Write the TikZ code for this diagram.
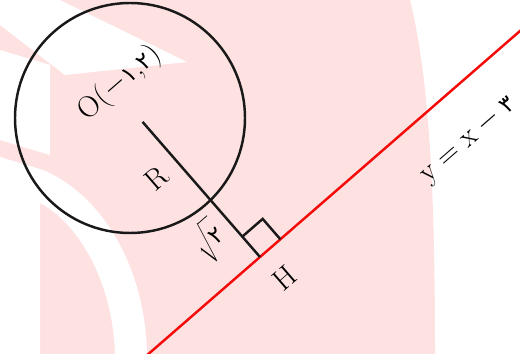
\documentclass[tikz,border=0pt]{standalone}
\usepackage{fontspec}
\newfontfamily\fadigits[Scale=0.78]{DejaVu Sans}
\usetikzlibrary{calc}
\definecolor{LineRed}{RGB}{245,10,10}
\definecolor{WmPink}{RGB}{254,226,226}
\newcommand{\fa}[1]{{\fadigits #1}}

\begin{document}
\begin{tikzpicture}[x=0.02cm, y=0.02cm, font=\fontsize{17}{20}\selectfont, lbl/.style={inner sep=1pt, rotate=41}, seg/.style={line width=1.4pt, black!90}, tang/.style={line width=1.4pt, LineRed}]
\useasboundingbox (0,0) rectangle (520,354);
\clip (0,0) rectangle (520,354);
\fill[WmPink] (0,0) -- (435,0) .. controls (435,180) and (428,280) .. (410,354) -- (0,354) -- cycle;
\fill[white] (0,354) -- (60,354) -- (187,292) -- (65,279) -- (0,329) -- cycle;
\fill[white] (0,304) -- (50,289) -- (50,199) -- (0,214) -- cycle;
\fill[white] (0,197) -- (43,184) .. controls (100,160) and (145,90) .. (147,0) -- (115,0) .. controls (113,70) and (80,130) .. (40,151) -- (40,0) -- (0,0) -- cycle;
\coordinate (H) at (260,97);
\coordinate (O) at ($(H)+(131:179)$);
\coordinate (C) at (130,236);
\draw[tang] ($(H)+(221:200)$) -- ($(H)+(41:400)$);
\draw[seg] (C) circle[radius=115];
\draw[seg] (O) -- (H);
\draw[seg] ($(H)+(131:27)$) -- ++(41:27) -- ++(-49:27);
\node[lbl] (olab) at (120,271) {O($-$\fa{۱},\fa{۲})};
\node[lbl] (rlab) at (157,176) {R};
\node[lbl] (sqlab) at (209,113) {$\sqrt{\vphantom{\big|}\hbox{\fadigits ۲}}$};
\node[lbl] (hlab) at (285,76) {H};
\node[lbl, anchor=mid west] (eqlab) at (424,172) {$\mathrm{y}=\mathrm{x}-{}$\fa{۳}};
\end{tikzpicture}
\end{document}
